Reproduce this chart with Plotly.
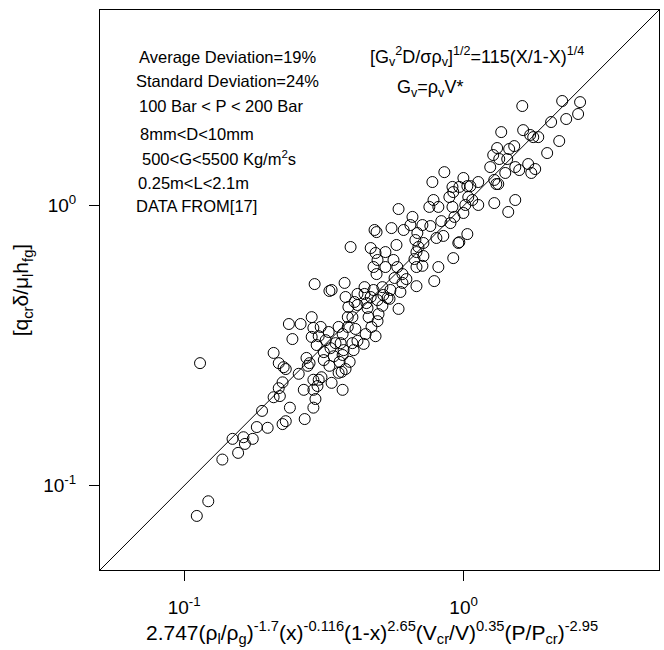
import plotly.graph_objects as go

# Predicted vs. measured dimensionless critical heat flux (log-log)
predicted = [
    0.114, 0.111, 0.122, 0.137, 0.156, 0.165, 0.163, 0.149, 0.176, 0.182,
    0.199, 0.190, 0.225, 0.231, 0.270, 0.239, 0.290, 0.295,
    0.585, 0.656, 0.480, 0.488, 0.552, 0.610, 0.645, 0.683, 0.672, 0.689,
    0.678, 0.667, 0.575, 0.394, 0.465, 0.484, 0.525, 0.492, 0.476, 0.488,
    0.525, 0.561, 0.579, 0.604, 0.566, 0.604, 0.624, 0.678, 0.594, 0.547,
    0.512, 0.516, 0.534, 0.492, 0.465, 0.442, 0.442, 0.417, 0.407, 0.375,
    0.378, 0.387, 0.417, 0.449, 0.476, 0.512, 0.543, 0.496, 0.492, 0.457,
    0.453, 0.468, 0.484, 0.446, 0.410, 0.400, 0.385, 0.385, 0.417, 0.439,
    0.400, 0.404, 0.372, 0.363, 0.369, 0.357, 0.585, 0.785, 0.812, 0.712,
    0.678, 0.718, 0.293, 0.331, 0.337, 0.286, 0.329, 0.308, 0.290, 0.237,
    0.261, 0.244, 0.286, 0.303, 0.321, 0.298, 0.334, 0.348, 0.316, 0.343,
    0.369, 0.391, 0.360, 0.331, 0.366, 0.357, 0.378, 0.316, 0.303, 0.310,
    0.290, 0.300, 0.290, 0.268, 0.337, 0.369, 0.274, 0.281, 0.277, 0.257,
    0.209, 0.218, 0.227, 0.231, 0.225, 0.218, 0.209, 0.220,
    2.252, 2.610, 1.621, 2.568, 2.328, 2.056, 1.363, 1.633, 1.730, 1.774,
    1.849, 2.198, 1.990, 1.702, 1.803, 1.746, 1.517, 1.455, 1.318, 1.276,
    1.341, 1.432, 1.530, 1.409, 1.581, 1.245, 1.287, 1.309, 1.330, 1.128,
    0.998, 1.031, 1.057, 1.039, 0.965, 0.912, 0.918, 0.889, 0.853, 0.773,
    1.530, 1.287, 1.444, 1.128, 1.074, 1.014, 0.998, 0.927, 0.912, 0.780,
    0.754, 0.812, 0.832, 0.760, 0.712, 0.897, 1.031, 0.965, 0.957, 0.846,
    0.799, 0.718, 0.918,
]
measured = [
    0.274, 0.078, 0.088, 0.124, 0.131, 0.141, 0.149, 0.147, 0.147, 0.162,
    0.161, 0.185, 0.166, 0.170, 0.173, 0.190, 0.190, 0.204,
    0.973, 0.912, 0.819, 0.805, 0.832, 0.819, 0.853, 0.799, 0.754, 0.712,
    0.683, 0.645, 0.724, 0.712, 0.706, 0.678, 0.683, 0.640, 0.604, 0.570,
    0.604, 0.640, 0.604, 0.570, 0.552, 0.530, 0.547, 0.516, 0.492, 0.500,
    0.512, 0.480, 0.468, 0.460, 0.472, 0.512, 0.484, 0.484, 0.453, 0.530,
    0.472, 0.435, 0.442, 0.449, 0.500, 0.439, 0.465, 0.410, 0.387, 0.400,
    0.431, 0.369, 0.342, 0.348, 0.363, 0.400, 0.400, 0.369, 0.329, 0.321,
    0.323, 0.305, 0.305, 0.323, 0.348, 0.369, 0.428, 0.538, 0.604, 0.610,
    0.604, 0.661, 0.525, 0.496, 0.500, 0.400, 0.354, 0.369, 0.366, 0.378,
    0.378, 0.334, 0.340, 0.342, 0.331, 0.318, 0.310, 0.323, 0.300, 0.290,
    0.293, 0.277, 0.277, 0.268, 0.255, 0.253, 0.261, 0.281, 0.239, 0.244,
    0.239, 0.227, 0.220, 0.220, 0.233, 0.220, 0.286, 0.274, 0.268, 0.251,
    0.298, 0.274, 0.265, 0.261, 0.234, 0.223, 0.207, 0.209,
    2.366, 2.344, 2.270, 2.126, 2.040, 1.990, 1.832, 1.862, 1.789, 1.758,
    1.758, 1.702, 1.542, 1.409, 1.352, 1.309, 1.633, 1.594, 1.607, 1.517,
    1.468, 1.468, 1.374, 1.309, 1.341, 1.374, 1.236, 1.195, 1.195, 1.215,
    1.256, 1.175, 1.175, 1.074, 1.167, 1.167, 1.119, 1.074, 1.318, 1.215,
    1.048, 1.022, 0.950, 1.006, 1.048, 1.006, 0.942, 0.912, 0.990, 1.048,
    0.990, 0.990, 0.881, 0.846, 0.853, 0.867, 0.792, 0.741, 0.736, 0.780,
    0.767, 0.736, 0.650,
]

axis_range = [0.05, 5.0]
tick_vals = [0.1, 1.0]
tick_text = ["10<sup>-1</sup>", "10<sup>0</sup>"]

notes = [
    "Average Deviation=19%",
    "Standard Deviation=24%",
    "100 Bar < P < 200 Bar",
    "8mm<D<10mm",
    "500<G<5500 Kg/m<sup>2</sup>s",
    "0.25m<L<2.1m",
    "DATA FROM[17]",
]
note_x = [0.0662, 0.0608, 0.0662, 0.068, 0.0716, 0.0644, 0.0608]
note_y = [0.9161, 0.8732, 0.8286, 0.7786, 0.7357, 0.6911, 0.6500]

FONT = "Liberation Sans, Arial, Helvetica, sans-serif"

fig = go.Figure()

# 1:1 reference line
fig.add_trace(go.Scatter(
    x=axis_range, y=axis_range, mode="lines",
    line=dict(color="black", width=1), showlegend=False, hoverinfo="skip",
))

fig.add_trace(go.Scatter(
    x=predicted, y=measured, mode="markers",
    marker=dict(symbol="circle-open", size=11, color="black",
                line=dict(color="black", width=1)),
    showlegend=False,
))

axis_common = dict(
    type="log",
    range=[-1.30103, 0.69897],
    tickvals=tick_vals,
    ticktext=tick_text,
    ticks="outside",
    ticklen=10,
    tickcolor="black",
    tickwidth=1,
    showline=True,
    linecolor="black",
    linewidth=1,
    mirror=True,
    showgrid=False,
    zeroline=False,
    tickfont=dict(family=FONT, size=19, color="black"),
)

fig.update_xaxes(**axis_common, ticklabelstandoff=10)
fig.update_yaxes(**axis_common, ticklabelstandoff=9)

annotations = []
for txt, ax_, ay_ in zip(notes, note_x, note_y):
    annotations.append(dict(
        text=txt, x=ax_, y=ay_, xref="paper", yref="paper",
        xanchor="left", yanchor="middle", showarrow=False,
        font=dict(family=FONT, size=16.5, color="black"),
    ))

annotations.append(dict(
    text="[G<sub>v</sub><sup>2</sup>D/σρ<sub>v</sub>]<sup>1/2</sup>=115(X/1-X)<sup>1/4</sup>",
    x=0.4794, y=0.9161, xref="paper", yref="paper",
    xanchor="left", yanchor="middle", showarrow=False,
    font=dict(family=FONT, size=18, color="black"),
))
annotations.append(dict(
    text="G<sub>v</sub>=ρ<sub>v</sub>V*",
    x=0.5277, y=0.8607, xref="paper", yref="paper",
    xanchor="left", yanchor="middle", showarrow=False,
    font=dict(family=FONT, size=18, color="black"),
))

# axis titles
annotations.append(dict(
    text="2.747(ρ<sub>l</sub>/ρ<sub>g</sub>)<sup>-1.7</sup>(x)<sup>-0.116</sup>"
         "(1-x)<sup>2.65</sup>(V<sub>cr</sub>/V)<sup>0.35</sup>(P/P<sub>cr</sub>)<sup>-2.95</sup>",
    x=0.487, y=-0.111, xref="paper", yref="paper",
    xanchor="center", yanchor="middle", showarrow=False,
    font=dict(family=FONT, size=21, color="black"),
))
annotations.append(dict(
    text="[q<sub>cr</sub>δ/μ<sub>l</sub>h<sub>fg</sub>]",
    x=-0.139, y=0.5, xref="paper", yref="paper",
    xanchor="center", yanchor="middle", showarrow=False, textangle=-90,
    font=dict(family=FONT, size=21, color="black"),
))

fig.update_layout(
    width=664, height=650,
    margin=dict(l=100, r=5, t=10, b=80),
    paper_bgcolor="white", plot_bgcolor="white",
    annotations=annotations,
    font=dict(family=FONT, color="black"),
)

fig.write_html("out.html")
